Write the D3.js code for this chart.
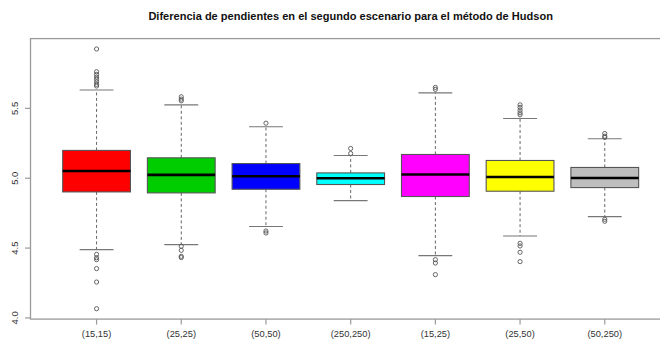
<!DOCTYPE html>
<html>
<head>
<meta charset="utf-8">
<script src="https://cdn.jsdelivr.net/npm/d3@7"></script>
<style>
  html, body { margin: 0; padding: 0; background: #fff; }
  svg { display: block; font-family: "Liberation Sans", Arial, sans-serif; }
</style>
</head>
<body>
<svg id="chart" width="660" height="341"></svg>
<script>
// Slope differences, second scenario, Hudson method: five-number summaries per sample-size pair
const categories = ["(15,15)", "(25,25)", "(50,50)", "(250,250)", "(15,25)", "(25,50)", "(50,250)"];
const whiskerLow  = [4.489, 4.525, 4.654, 4.840, 4.446, 4.586, 4.725];
const q1          = [4.902, 4.895, 4.921, 4.955, 4.869, 4.907, 4.933];
const medians     = [5.052, 5.024, 5.014, 5.000, 5.027, 5.009, 5.002];
const q3          = [5.199, 5.146, 5.105, 5.038, 5.170, 5.127, 5.077];
const whiskerHigh = [5.631, 5.525, 5.368, 5.163, 5.611, 5.428, 5.282];
const outliers = [
  [5.925, 5.762, 5.743, 5.724, 5.708, 5.690, 5.672, 5.660, 4.455, 4.431, 4.417, 4.353, 4.257, 4.066],
  [5.583, 5.566, 5.554, 4.513, 4.484, 4.441, 4.432],
  [5.394, 4.622, 4.608],
  [5.213, 5.177],
  [5.650, 5.636, 4.417, 4.393, 4.310],
  [5.525, 5.507, 5.487, 5.468, 5.454, 4.534, 4.515, 4.470, 4.403],
  [5.320, 5.301, 5.292, 4.706, 4.692]
];
const fills = ["#FF0000", "#00CD00", "#0000FF", "#00FFFF", "#FF00FF", "#FFFF00", "#BEBEBE"];
const yTicks = [4.0, 4.5, 5.0, 5.5];
const title = "Diferencia de pendientes en el segundo escenario para el método de Hudson";

const svg = d3.select("#chart");
const plot = { left: 30.5, top: 38.6, bottom: 319.1 };

// y range padded by 4% of the data span, x range 0.5..n+0.5 padded the same way
const allVals = whiskerLow.concat(whiskerHigh, outliers.flat());
const yMin = d3.min(allVals), yMax = d3.max(allVals);
const yPad = (yMax - yMin) * 0.04;
const y = d3.scaleLinear().domain([yMin - yPad, yMax + yPad]).range([plot.bottom, plot.top]);

const n = categories.length;
const xPad = n * 0.04;
const unit = 84.7;
const x = d3.scaleLinear()
  .domain([0.5 - xPad, n + 0.5 + xPad])
  .range([plot.left, plot.left + unit * (n + 2 * xPad)]);
const plotRight = x.range()[1];

const halfBox = 0.4, halfStaple = 0.2;
const axisGrey = "#9a9a9a";

// frame
svg.append("rect")
  .attr("x", plot.left).attr("y", plot.top)
  .attr("width", plotRight - plot.left).attr("height", plot.bottom - plot.top)
  .attr("fill", "none").attr("stroke", axisGrey).attr("stroke-width", 1.3);

// boxes
const groups = svg.append("g").selectAll("g").data(categories).join("g");

groups.each(function(c, i) {
  const g = d3.select(this);
  const cx = x(i + 1);
  // whiskers
  g.append("line").attr("x1", cx).attr("x2", cx)
    .attr("y1", y(q3[i])).attr("y2", y(whiskerHigh[i]))
    .attr("stroke", "#666").attr("stroke-dasharray", "3,2.5");
  g.append("line").attr("x1", cx).attr("x2", cx)
    .attr("y1", y(q1[i])).attr("y2", y(whiskerLow[i]))
    .attr("stroke", "#666").attr("stroke-dasharray", "3,2.5");
  // staples
  [whiskerLow[i], whiskerHigh[i]].forEach(v => {
    g.append("line")
      .attr("x1", x(i + 1 - halfStaple)).attr("x2", x(i + 1 + halfStaple))
      .attr("y1", y(v)).attr("y2", y(v))
      .attr("stroke", "#777").attr("stroke-width", 1.1);
  });
  // box
  g.append("rect")
    .attr("x", x(i + 1 - halfBox)).attr("width", x(i + 1 + halfBox) - x(i + 1 - halfBox))
    .attr("y", y(q3[i])).attr("height", y(q1[i]) - y(q3[i]))
    .attr("fill", fills[i]).attr("stroke", "#555").attr("stroke-width", 1.1);
  // median
  g.append("line")
    .attr("x1", x(i + 1 - halfBox)).attr("x2", x(i + 1 + halfBox))
    .attr("y1", y(medians[i])).attr("y2", y(medians[i]))
    .attr("stroke", "#000").attr("stroke-width", 2.6);
  // outliers
  g.selectAll("circle").data(outliers[i]).join("circle")
    .attr("cx", cx).attr("cy", d => y(d)).attr("r", 2.1)
    .attr("fill", "none").attr("stroke", "#555").attr("stroke-width", 0.9);
});

// y axis
const yAxis = svg.append("g");
yAxis.selectAll("line.tick").data(yTicks).join("line")
  .attr("x1", plot.left - 5.5).attr("x2", plot.left)
  .attr("y1", d => y(d)).attr("y2", d => y(d))
  .attr("stroke", axisGrey).attr("stroke-width", 1.2);
yAxis.selectAll("text").data(yTicks).join("text")
  .attr("transform", d => `translate(17.5,${y(d)}) rotate(-90)`)
  .attr("text-anchor", "middle")
  .attr("font-size", 9.5).attr("fill", "#333")
  .text(d => d3.format(".1f")(d));

// x axis
const xAxis = svg.append("g");
xAxis.selectAll("line").data(categories).join("line")
  .attr("x1", (d, i) => x(i + 1)).attr("x2", (d, i) => x(i + 1))
  .attr("y1", plot.bottom).attr("y2", plot.bottom + 5.5)
  .attr("stroke", axisGrey).attr("stroke-width", 1.2);
xAxis.selectAll("text").data(categories).join("text")
  .attr("x", (d, i) => x(i + 1)).attr("y", plot.bottom + 17.5)
  .attr("text-anchor", "middle")
  .attr("font-size", 9.3).attr("fill", "#333")
  .text(d => d);

// title, sized to span the reference width
const t = svg.append("text")
  .attr("x", (plot.left + plotRight) / 2).attr("y", 20)
  .attr("text-anchor", "middle")
  .attr("font-weight", "bold").attr("font-size", 12).attr("fill", "#111")
  .text(title);
const w = t.node().getComputedTextLength();
t.attr("font-size", 12 * 405 / w);
</script>
</body>
</html>
